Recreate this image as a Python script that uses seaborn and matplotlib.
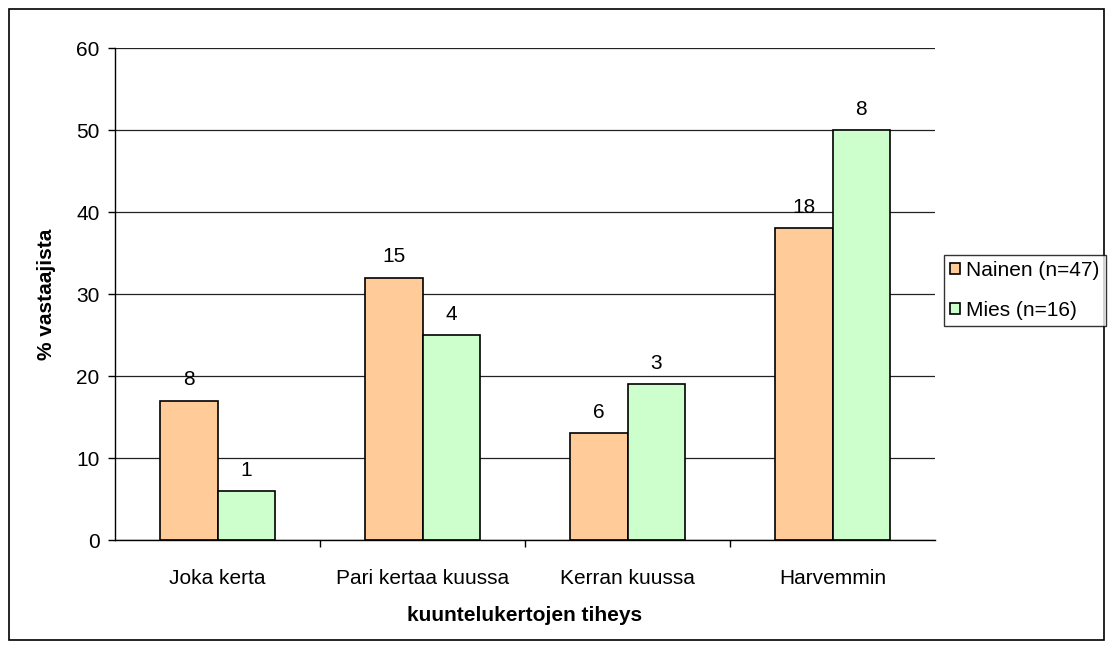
import matplotlib.pyplot as plt
import pandas as pd
import seaborn as sns
from matplotlib.patches import Rectangle
from matplotlib.ticker import FixedLocator, MultipleLocator

categories = ["Joka kerta", "Pari kertaa kuussa", "Kerran kuussa", "Harvemmin"]
series = ["Nainen (n=47)", "Mies (n=16)"]
nainen_pct = [17, 32, 13, 38]
mies_pct = [6, 25, 19, 50]
nainen_n = ["8", "15", "6", "18"]
mies_n = ["1", "4", "3", "8"]

df = pd.DataFrame({
    "cat": categories * 2,
    "ryhma": [series[0]] * 4 + [series[1]] * 4,
    "pct": nainen_pct + mies_pct,
})

sns.set_style("white")
plt.rcParams['font.family'] = ["Liberation Sans", "DejaVu Sans"]
plt.rcParams['text.color'] = "black"
plt.rcParams['axes.labelcolor'] = "black"
plt.rcParams['xtick.color'] = "black"
plt.rcParams['ytick.color'] = "black"

fig = plt.figure(figsize=(11.12, 6.48), dpi=100)
ax = fig.add_axes([115 / 1112, 108 / 648, 820 / 1112, 492 / 648])

sns.barplot(data=df, x="cat", y="pct", hue="ryhma", hue_order=series,
            order=categories, palette=["#FFCC99", "#CCFFCC"],
            width=0.56, gap=0, edgecolor="black", linewidth=1.2,
            saturation=1, ax=ax, legend=True)

for cont, labs in zip(ax.containers, [nainen_n, mies_n]):
    ax.bar_label(cont, labels=labs, padding=8, fontsize=15, color="black")

ax.set_ylim(0, 60)
ax.set_xlim(-0.5, 3.5)
ax.yaxis.set_major_locator(MultipleLocator(10))
ax.grid(axis="y", color="#222222", linewidth=0.9)
ax.set_axisbelow(True)
for s in ["top", "right"]:
    ax.spines[s].set_visible(False)
for s in ["left", "bottom"]:
    ax.spines[s].set_color("black")
    ax.spines[s].set_linewidth(1)

ax.tick_params(axis="y", left=True, length=5, width=1, color="black",
               labelsize=15, pad=6)
ax.tick_params(axis="x", which="major", length=0, labelsize=15, pad=21)
ax.xaxis.set_minor_locator(FixedLocator([0.5, 1.5, 2.5]))
ax.tick_params(axis="x", which="minor", bottom=True, length=5, width=1,
               color="black")

ax.set_xlabel("kuuntelukertojen tiheys", fontsize=15, fontweight="bold",
              labelpad=13)
ax.set_ylabel("% vastaajista", fontsize=15, fontweight="bold", labelpad=15)

ax.get_legend().remove()
handles, labels = ax.get_legend_handles_labels()
leg = fig.legend(handles, labels, loc="upper left",
                 bbox_to_anchor=(944 / 1112, 1 - 255 / 648),
                 fontsize=15, frameon=True, fancybox=False, edgecolor="black",
                 handlelength=0.45, handleheight=0.45, handletextpad=0.3,
                 borderpad=0.3, labelspacing=1.0, borderaxespad=0)
leg.get_frame().set_linewidth(1)

fig.patches.append(Rectangle((9 / 1112, 8 / 648), 1095 / 1112, 631 / 648,
                             transform=fig.transFigure, fill=False,
                             edgecolor="black", linewidth=1.2))

fig.savefig("out.png", dpi=100)
